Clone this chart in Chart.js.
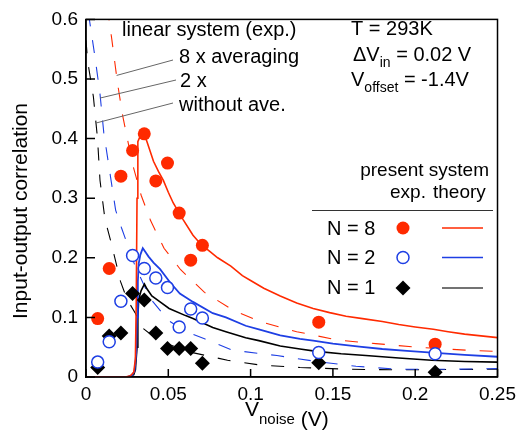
<!DOCTYPE html>
<html>
<head>
<meta charset="utf-8">
<script src="https://cdn.jsdelivr.net/npm/chart.js@4.4.1/dist/chart.umd.min.js"></script>
<style>
	html, body { margin: 0; padding: 0; background: #fff; }
	#wrap { width: 522px; height: 432px; }
</style>
</head>
<body>
<div id="wrap"><canvas id="corr" width="522" height="432"></canvas></div>
<script>
const FONT = "'Liberation Sans', Arial, Helvetica, sans-serif";
const RED = "#ff2a00";
const BLUE = "#1e3fe4";

const xTicks = [0, 0.05, 0.1, 0.15, 0.2, 0.25];
const yTicks = [0, 0.1, 0.2, 0.3, 0.4, 0.5, 0.6];

// experiment (present system)
const vNoise = [0.0071, 0.0141, 0.0212, 0.0283, 0.0354, 0.0424, 0.0495, 0.0566, 0.0636, 0.0707, 0.1414, 0.2121];
const exp8 = [0.098, 0.182, 0.337, 0.380, 0.408, 0.329, 0.359, 0.275, 0.196, 0.221, 0.092, 0.055];
const exp2 = [0.025, 0.059, 0.127, 0.204, 0.182, 0.166, 0.150, 0.084, 0.114, 0.099, 0.041, 0.039];
const exp1 = [0.016, 0.069, 0.074, 0.140, 0.129, 0.074, 0.048, 0.048, 0.048, 0.023, 0.024, 0.008];

// theory (present system)
const th8x = [0, 0.024, 0.027, 0.029, 0.030, 0.0305, 0.031, 0.0315, 0.033, 0.035, 0.037, 0.041, 0.044, 0.047, 0.050, 0.053, 0.056, 0.059, 0.065, 0.070, 0.075, 0.080, 0.088, 0.095, 0.100, 0.108, 0.118, 0.128, 0.138, 0.148, 0.158, 0.168, 0.180, 0.190, 0.200, 0.211, 0.220, 0.230, 0.240, 0.250];
const th8 = [0, 0, 0.002, 0.008, 0.03, 0.12, 0.3, 0.395, 0.405, 0.41, 0.395, 0.362, 0.345, 0.33, 0.31, 0.292, 0.278, 0.264, 0.238, 0.222, 0.211, 0.2, 0.186, 0.17, 0.162, 0.149, 0.136, 0.124, 0.115, 0.108, 0.102, 0.098, 0.093, 0.088, 0.084, 0.08, 0.076, 0.072, 0.069, 0.066];
const th2x = [0, 0.025, 0.028, 0.0295, 0.0305, 0.031, 0.0315, 0.032, 0.033, 0.0345, 0.036, 0.038, 0.041, 0.045, 0.051, 0.057, 0.065, 0.077, 0.085, 0.097, 0.105, 0.118, 0.130, 0.138, 0.150, 0.166, 0.180, 0.195, 0.210, 0.230, 0.250];
const th2 = [0, 0, 0.003, 0.01, 0.04, 0.1, 0.16, 0.19, 0.205, 0.216, 0.21, 0.202, 0.192, 0.181, 0.159, 0.14, 0.126, 0.107, 0.1, 0.086, 0.08, 0.07, 0.064, 0.061, 0.056, 0.051, 0.047, 0.044, 0.041, 0.037, 0.034];
const th1x = [0, 0.026, 0.029, 0.030, 0.031, 0.0315, 0.032, 0.0335, 0.0355, 0.037, 0.040, 0.045, 0.0505, 0.0605, 0.065, 0.077, 0.085, 0.097, 0.105, 0.118, 0.130, 0.140, 0.155, 0.170, 0.190, 0.210, 0.230, 0.250];
const th1 = [0, 0, 0.004, 0.012, 0.05, 0.1, 0.13, 0.145, 0.156, 0.148, 0.136, 0.126, 0.115, 0.103, 0.098, 0.083, 0.076, 0.066, 0.061, 0.052, 0.047, 0.043, 0.039, 0.036, 0.032, 0.028, 0.026, 0.025];

// linear system (exp.)
const lin8x = [0.013, 0.0157, 0.0192, 0.0223, 0.0282, 0.0335, 0.0393, 0.0474, 0.0575, 0.072, 0.090, 0.107, 0.128, 0.153, 0.176, 0.201, 0.231, 0.250];
const lin8 = [0.62, 0.566, 0.492, 0.438, 0.358, 0.305, 0.262, 0.216, 0.18, 0.142, 0.111, 0.092, 0.076, 0.062, 0.056, 0.05, 0.045, 0.043];
const lin2x = [0.0015, 0.0055, 0.0085, 0.0108, 0.0145, 0.018, 0.0216, 0.030, 0.039, 0.050, 0.060, 0.072, 0.089, 0.116, 0.140, 0.164, 0.190, 0.220, 0.250];
const lin2 = [0.61, 0.536, 0.475, 0.41, 0.343, 0.28, 0.25, 0.185, 0.132, 0.095, 0.077, 0.064, 0.045, 0.036, 0.026, 0.018, 0.013, 0.013, 0.014];
const lin1x = [0, 0.001, 0.0045, 0.007, 0.0085, 0.0115, 0.0155, 0.021, 0.025, 0.030, 0.034, 0.040, 0.050, 0.063, 0.086, 0.106, 0.130, 0.160, 0.190, 0.250];
const lin1 = [0.565, 0.53, 0.47, 0.40, 0.33, 0.265, 0.223, 0.16, 0.13, 0.107, 0.083, 0.07, 0.055, 0.042, 0.028, 0.02, 0.016, 0.013, 0.012, 0.013];

const pts = (xs, ys) => xs.map((v, i) => ({ x: v, y: ys[i] }));

const curve = (xs, ys, color, width, dash) => ({
	data: pts(xs, ys),
	showLine: true,
	borderColor: color,
	borderWidth: width,
	borderDash: dash || [],
	pointRadius: 0,
	tension: 0
});

// write text made of runs: [text, dy, size]
function runs(ctx, x, y, parts) {
	parts.forEach(p => {
		ctx.font = (p[2] || 20) + "px " + FONT;
		ctx.fillText(p[0], x, y + (p[1] || 0));
		x += ctx.measureText(p[0]).width;
	});
}

const extras = {
	id: "extras",
	afterDatasetsDraw(chart) {
		const { ctx, chartArea: a, scales: { x, y } } = chart;
		ctx.save();
		// frame and inward ticks
		ctx.strokeStyle = "#000";
		ctx.lineWidth = 1.5;
		ctx.strokeRect(a.left, a.top, a.right - a.left, a.bottom - a.top);
		ctx.beginPath();
		xTicks.forEach(v => {
			const px = x.getPixelForValue(v);
			ctx.moveTo(px, a.bottom);
			ctx.lineTo(px, a.bottom - 8);
		});
		yTicks.forEach(v => {
			const py = y.getPixelForValue(v);
			ctx.moveTo(a.left, py);
			ctx.lineTo(a.left + 9, py);
		});
		ctx.stroke();

		// leader lines to the linear system curves
		ctx.strokeStyle = "#666";
		ctx.lineWidth = 1;
		ctx.beginPath();
		ctx.moveTo(x.getPixelForValue(0.0186), y.getPixelForValue(0.506));
		ctx.lineTo(173, 60);
		ctx.moveTo(x.getPixelForValue(0.0085), y.getPixelForValue(0.468));
		ctx.lineTo(176, 80);
		ctx.moveTo(x.getPixelForValue(0.0059), y.getPixelForValue(0.426));
		ctx.lineTo(173, 103);
		ctx.stroke();

		ctx.fillStyle = "#000";
		ctx.textAlign = "left";
		ctx.textBaseline = "alphabetic";
		runs(ctx, 122, 36, [["linear system (exp.)"]]);
		runs(ctx, 179, 63, [["8 x averaging"]]);
		runs(ctx, 180, 87, [["2 x"]]);
		runs(ctx, 179, 111, [["without ave."]]);

		runs(ctx, 351, 35, [["T = 293K"]]);
		runs(ctx, 353, 61, [["\u0394V"], ["in", 6, 14], [" = 0.02 V"]]);
		runs(ctx, 351, 86, [["V"], ["offset", 6, 14], [" = -1.4V"]]);

		ctx.textAlign = "right";
		runs(ctx, 489, 176, [["present system", 0, 19]]);
		ctx.textAlign = "left";
		runs(ctx, 390, 198, [["exp.", 0, 19]]);
		runs(ctx, 433, 198, [["theory", 0, 19]]);

		ctx.strokeStyle = "#333";
		ctx.lineWidth = 1;
		ctx.beginPath();
		ctx.moveTo(312, 210.5);
		ctx.lineTo(493, 210.5);
		ctx.stroke();

		// legend rows
		const rows = [
			["N = 8", 235, 228, RED],
			["N = 2", 264, 257.5, BLUE],
			["N = 1", 294, 288, "#000"]
		];
		rows.forEach((r, i) => {
			ctx.fillStyle = "#000";
			runs(ctx, 327, r[1], [[r[0]]]);
			const cx = 403, cy = r[2];
			ctx.beginPath();
			if (i === 0) {
				ctx.arc(cx, cy, 6.5, 0, Math.PI * 2);
				ctx.fillStyle = RED;
				ctx.fill();
			} else if (i === 1) {
				ctx.arc(cx, cy, 6, 0, Math.PI * 2);
				ctx.fillStyle = "#fff";
				ctx.fill();
				ctx.strokeStyle = BLUE;
				ctx.lineWidth = 1.5;
				ctx.stroke();
			} else {
				ctx.moveTo(cx, cy - 7.5);
				ctx.lineTo(cx + 7.5, cy);
				ctx.lineTo(cx, cy + 7.5);
				ctx.lineTo(cx - 7.5, cy);
				ctx.closePath();
				ctx.fillStyle = "#000";
				ctx.fill();
			}
			ctx.beginPath();
			ctx.moveTo(442, cy);
			ctx.lineTo(483, cy);
			ctx.strokeStyle = i === 2 ? "#444" : r[3];
			ctx.lineWidth = 1.3;
			ctx.stroke();
		});

		// axis titles
		ctx.fillStyle = "#000";
		runs(ctx, 245, 416, [["V", 0, 21], ["noise", 8, 15], [" (V)", 10, 21]]);

		ctx.translate(27, 211);
		ctx.rotate(-Math.PI / 2);
		ctx.textAlign = "center";
		ctx.font = "21px " + FONT;
		ctx.fillText("Input-output correlation", 0, 0);
		ctx.restore();
	}
};

new Chart(document.querySelector("#corr"), {
	type: "scatter",
	data: {
		datasets: [{
			data: pts(vNoise, exp2),
			pointStyle: "circle",
			pointRadius: 6,
			backgroundColor: "#fff",
			borderColor: BLUE,
			borderWidth: 1.5
		}, {
			data: pts(vNoise, exp8),
			pointStyle: "circle",
			pointRadius: 6.5,
			backgroundColor: RED,
			borderWidth: 0
		}, {
			data: pts(vNoise, exp1),
			pointStyle: "rectRot",
			pointRadius: 7.5,
			backgroundColor: "#000",
			borderWidth: 0
		},
			curve(th8x, th8, RED, 1.6),
			curve(th2x, th2, BLUE, 1.8),
			curve(th1x, th1, "#000", 1.6),
			curve(lin8x, lin8, RED, 1.1, [13, 14]),
			curve(lin2x, lin2, BLUE, 1.1, [13, 14]),
			curve(lin1x, lin1, "#000", 1.1, [13, 14])
		]
	},
	options: {
		responsive: false,
		animation: false,
		layout: { padding: { top: 11, right: 23, left: 0, bottom: 0 } },
		plugins: {
			legend: { display: false },
			tooltip: { enabled: false }
		},
		scales: {
			x: {
				type: "linear",
				min: 0,
				max: 0.25,
				afterFit: s => { s.height = 55; },
				afterBuildTicks: s => { s.ticks = xTicks.map(v => ({ value: v })); },
				grid: { display: false, drawTicks: false },
				border: { display: true, color: "#000", width: 1.5 },
				ticks: {
					autoSkip: false,
					maxRotation: 0,
					padding: 6,
					color: "#000",
					font: { family: FONT, size: 19 },
					callback: v => String(+v.toFixed(2))
				}
			},
			y: {
				min: 0,
				max: 0.6,
				afterFit: s => { s.width = 86; },
				afterBuildTicks: s => { s.ticks = yTicks.map(v => ({ value: v })); },
				grid: { display: false, drawTicks: false },
				border: { display: true, color: "#000", width: 1.5 },
				ticks: {
					autoSkip: false,
					padding: 8,
					color: "#000",
					font: { family: FONT, size: 19 },
					callback: v => String(+v.toFixed(1))
				}
			}
		}
	},
	plugins: [extras]
});
</script>
</body>
</html>
